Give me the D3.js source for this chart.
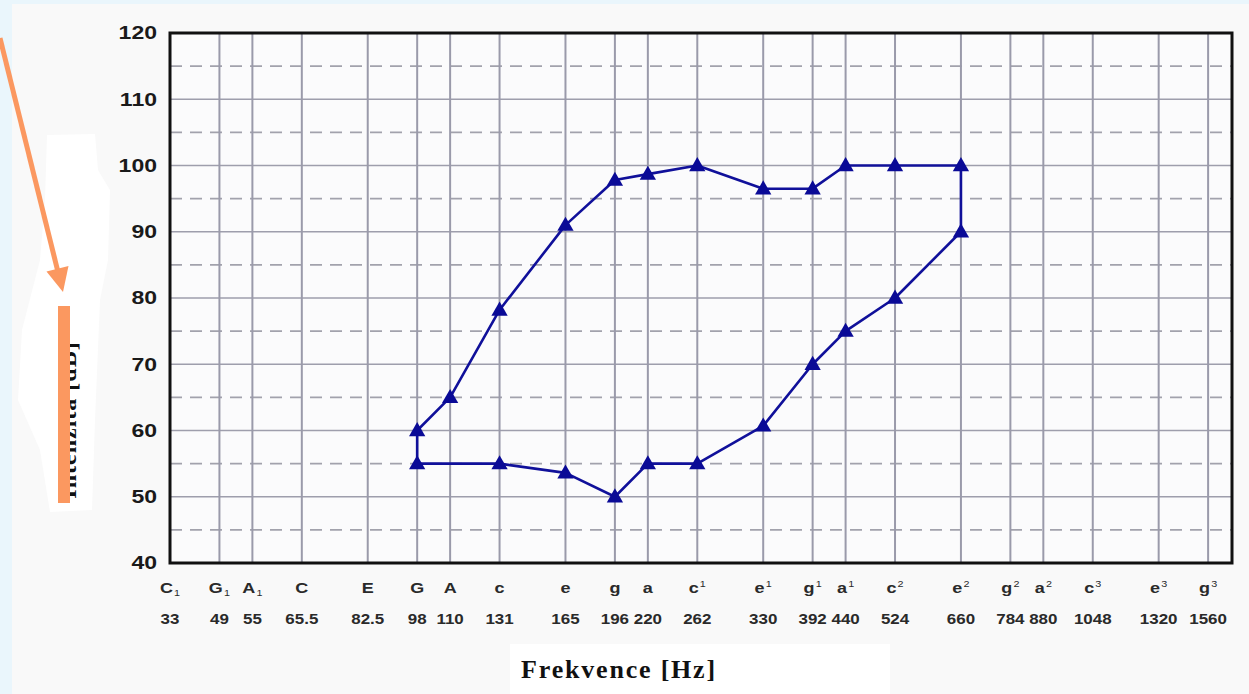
<!DOCTYPE html>
<html lang="cs">
<head>
<meta charset="UTF-8">
<title>Frekvence / intenzita</title>
<script src="https://cdnjs.cloudflare.com/ajax/libs/d3/7.8.5/d3.min.js"></script>
<style>
  html, body { margin: 0; padding: 0; background: #eaf6fc; }
  svg { display: block; }
</style>
</head>
<body>
<svg id="chart" width="1249" height="694"></svg>
<script>
// notes on the x axis: name, octave mark, frequency and step along the axis
var noteNames = ['C', 'G', 'A', 'C', 'E', 'G', 'A', 'c', 'e', 'g', 'a', 'c', 'e', 'g', 'a', 'c', 'e', 'g', 'a', 'c', 'e', 'g'];
var noteMarks = ['sub1', 'sub1', 'sub1', '', '', '', '', '', '', '', '', '1', '1', '1', '1', '2', '2', '2', '2', '3', '3', '3'];
var noteFreqs = ['33', '49', '55', '65.5', '82.5', '98', '110', '131', '165', '196', '220', '262', '330', '392', '440', '524', '660', '784', '880', '1048', '1320', '1560'];
var noteSteps = [0, 3, 5, 8, 12, 15, 17, 20, 24, 27, 29, 32, 36, 39, 41, 44, 48, 51, 53, 56, 60, 63];

var yTicks = [40, 50, 60, 70, 80, 90, 100, 110, 120];
var yHalfTicks = [45, 55, 65, 75, 85, 95, 105, 115];

// closed outline of the voice range (note index, dB)
var rangeNotes = [5, 6, 7, 8, 9, 10, 11, 12, 13, 14, 15, 16, 16, 15, 14, 13, 12, 11, 10, 9, 8, 7, 5, 5];
var rangeDb = [60, 65, 78.2, 91, 97.8, 98.7, 100, 96.5, 96.5, 100, 100, 100, 90, 80, 75, 70, 60.7, 55, 55, 50, 53.6, 55, 55, 60];

var svg = d3.select('#chart');
var plotL = 170, plotR = 1232, plotT = 33, plotB = 563;

var x = d3.scaleLinear().domain([0, 64.45]).range([plotL, plotR]);
var y = d3.scaleLinear().domain([40, 120]).range([plotB, plotT]);

// panel
svg.append('rect').attr('x', 12).attr('y', 4).attr('width', 1237).attr('height', 690).attr('fill', '#f9f9f9');
svg.append('rect').attr('x', 510).attr('y', 644).attr('width', 380).attr('height', 50).attr('fill', '#ffffff');

// white smudge behind the y label
svg.append('path')
    .attr('d', 'M47,135 L95,134 L98,170 L110,190 L108,260 L100,300 L95,420 L92,510 L50,512 L40,450 L18,400 L22,330 L40,260 L45,200 Z')
    .attr('fill', '#ffffff');

// plot background
svg.append('rect').attr('x', plotL).attr('y', plotT).attr('width', plotR - plotL).attr('height', plotB - plotT).attr('fill', '#fbfbfc');

// dashed half grid
svg.append('g').selectAll('line')
    .data(yHalfTicks)
    .enter()
    .append('line')
    .attr('x1', plotL).attr('x2', plotR)
    .attr('y1', function(d) { return y(d); })
    .attr('y2', function(d) { return y(d); })
    .attr('stroke', '#a2a2ac')
    .attr('stroke-width', 1.6)
    .attr('stroke-dasharray', '12,8');

// solid grid
svg.append('g').selectAll('line')
    .data(yTicks)
    .enter()
    .append('line')
    .attr('x1', plotL).attr('x2', plotR)
    .attr('y1', function(d) { return y(d); })
    .attr('y2', function(d) { return y(d); })
    .attr('stroke', '#9e9eac')
    .attr('stroke-width', 1.4);

svg.append('g').selectAll('line')
    .data(noteSteps)
    .enter()
    .append('line')
    .attr('x1', function(d) { return x(d); })
    .attr('x2', function(d) { return x(d); })
    .attr('y1', plotT).attr('y2', plotB)
    .attr('stroke', '#9a9aaa')
    .attr('stroke-width', 2);

// frame
svg.append('rect')
    .attr('x', plotL).attr('y', plotT).attr('width', plotR - plotL).attr('height', plotB - plotT)
    .attr('fill', 'none').attr('stroke', '#111').attr('stroke-width', 3);

// y tick labels (the source draws them wide)
svg.append('g').selectAll('text')
    .data(yTicks)
    .enter()
    .append('text')
    .attr('transform', function(d) { return 'translate(157,' + y(d) + ') scale(1.28,1)'; })
    .attr('dy', '0.36em')
    .attr('text-anchor', 'end')
    .attr('font-family', 'Liberation Sans, Arial, sans-serif')
    .attr('font-weight', 'bold')
    .attr('font-size', '18px')
    .attr('fill', '#1a1a1a')
    .text(function(d) { return d; });

// note names with octave marks
var names = svg.append('g').selectAll('text')
    .data(noteSteps)
    .enter()
    .append('text')
    .attr('transform', function(d) { return 'translate(' + x(d) + ',593) scale(1.2,1)'; })
    .attr('text-anchor', 'middle')
    .attr('font-family', 'Liberation Sans, Arial, sans-serif')
    .attr('font-weight', 'bold')
    .attr('font-size', '15px')
    .attr('fill', '#2a2a2a');

names.append('tspan').text(function(d, i) { return noteNames[i]; });
names.append('tspan')
    .attr('font-size', '9px')
    .attr('font-weight', 'normal')
    .attr('dx', 1)
    .attr('dy', function(d, i) { return noteMarks[i] === 'sub1' ? 3 : -6; })
    .text(function(d, i) {
        var m = noteMarks[i];
        return m === 'sub1' ? '1' : m;
    });

// frequencies
svg.append('g').selectAll('text')
    .data(noteSteps)
    .enter()
    .append('text')
    .attr('transform', function(d) { return 'translate(' + x(d) + ',624) scale(1.13,1)'; })
    .attr('text-anchor', 'middle')
    .attr('font-family', 'Liberation Sans, Arial, sans-serif')
    .attr('font-weight', 'bold')
    .attr('font-size', '15px')
    .attr('fill', '#2a2a2a')
    .text(function(d, i) { return noteFreqs[i]; });

// voice range outline
var pts = rangeNotes.map(function(n, i) { return [x(noteSteps[n]), y(rangeDb[i])]; });

svg.append('path')
    .attr('d', d3.line()(pts))
    .attr('fill', 'none')
    .attr('stroke', '#10109a')
    .attr('stroke-width', 2.6)
    .attr('stroke-linejoin', 'round');

svg.append('g').selectAll('path')
    .data(pts.slice(0, pts.length - 1))
    .enter()
    .append('path')
    .attr('d', d3.symbol().type(d3.symbolTriangle).size(115))
    .attr('transform', function(d) { return 'translate(' + d[0] + ',' + (d[1] + 1) + ')'; })
    .attr('fill', '#0a0a96');

// axis titles
svg.append('text')
    .attr('x', 619)
    .attr('y', 678)
    .attr('text-anchor', 'middle')
    .attr('font-family', 'Liberation Serif, Times New Roman, serif')
    .attr('font-weight', 'bold')
    .attr('font-size', '26px')
    .attr('letter-spacing', '1.8px')
    .attr('fill', '#111')
    .text('Frekvence [Hz]');

svg.append('text')
    .attr('transform', 'translate(76,420) rotate(-90)')
    .attr('text-anchor', 'middle')
    .attr('font-family', 'Liberation Serif, Times New Roman, serif')
    .attr('font-weight', 'bold')
    .attr('font-size', '24px')
    .attr('letter-spacing', '1px')
    .attr('fill', '#111')
    .text('Intenzita [dB]');

// orange annotation: arrow and bar
var orange = '#fb9860';
svg.append('line')
    .attr('x1', 0).attr('y1', 38)
    .attr('x2', 58).attr('y2', 272)
    .attr('stroke', orange).attr('stroke-width', 5);
svg.append('path')
    .attr('d', 'M63,292 L46.5,271.5 L68.5,266 Z')
    .attr('fill', orange);
svg.append('rect')
    .attr('x', 58).attr('y', 306).attr('width', 12).attr('height', 197)
    .attr('fill', orange);
</script>
</body>
</html>
